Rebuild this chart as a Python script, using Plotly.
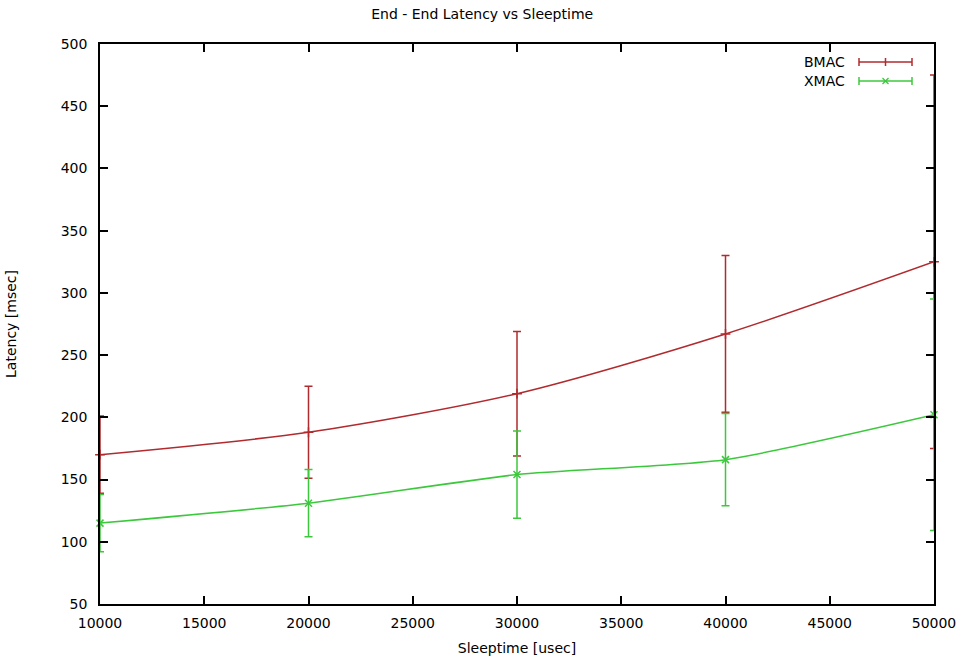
import plotly.graph_objects as go

sleeptime = [10000, 20000, 30000, 40000, 50000]
bmac_latency = [170, 188, 219, 267, 325]
bmac_err = [31, 37, 50, 63, 150]
xmac_latency = [115, 131, 154, 166, 202]
xmac_err = [23, 27, 35, 37, 93]

x_ticks = list(range(10000, 50001, 5000))
y_ticks = list(range(50, 501, 50))

RED = "#b02a2e"
GREEN = "#3cc83c"
FONT = "DejaVu Sans, Liberation Sans, sans-serif"
FS = 14

fig = go.Figure()
fig.add_trace(go.Scatter(
    x=sleeptime, y=bmac_latency, name="BMAC", mode="lines+markers",
    line=dict(color=RED, width=1.5, shape="spline", smoothing=0.8),
    marker=dict(symbol="cross-thin", size=7, line=dict(color=RED, width=1.5)),
    error_y=dict(type="data", array=bmac_err, visible=True, color=RED,
                 thickness=1.5, width=4),
    cliponaxis=False, showlegend=False,
))
fig.add_trace(go.Scatter(
    x=sleeptime, y=xmac_latency, name="XMAC", mode="lines+markers",
    line=dict(color=GREEN, width=1.5, shape="spline", smoothing=0.6),
    marker=dict(symbol="x-thin", size=7, line=dict(color=GREEN, width=1.5)),
    error_y=dict(type="data", array=xmac_err, visible=True, color=GREEN,
                 thickness=1.5, width=4),
    cliponaxis=False, showlegend=False,
))

# Gnuplot-style legend: text then line sample with error caps
legend_items = [("BMAC", RED, 62, "cross-thin"), ("XMAC", GREEN, 81, "x-thin")]
W, H = 969, 663
ml, mr, mt, mb = 100, 35, 44, 59
pw, ph = W - ml - mr, H - mt - mb

def px(xp):
    return (xp - ml) / pw

def py(yp):
    return 1 - (yp - mt) / ph

for name, col, yy, sym in legend_items:
    fig.add_annotation(x=px(847), y=py(yy), xref="paper", yref="paper",
                       text=name, showarrow=False, xanchor="right",
                       yanchor="middle", font=dict(family=FONT, size=FS, color="black"))
    fig.add_shape(type="line", xref="paper", yref="paper",
                  x0=px(859), x1=px(912), y0=py(yy), y1=py(yy),
                  line=dict(color=col, width=1.5))
    for xe in (859, 912):
        fig.add_shape(type="line", xref="paper", yref="paper",
                      x0=px(xe), x1=px(xe), y0=py(yy - 4), y1=py(yy + 4),
                      line=dict(color=col, width=1.5))
    if sym == "cross-thin":
        fig.add_shape(type="line", xref="paper", yref="paper",
                      x0=px(885.5), x1=px(885.5), y0=py(yy - 4), y1=py(yy + 4),
                      line=dict(color=col, width=1.5))
    else:
        fig.add_shape(type="line", xref="paper", yref="paper",
                      x0=px(882.5), x1=px(888.5), y0=py(yy - 3), y1=py(yy + 3),
                      line=dict(color=col, width=1.2))
        fig.add_shape(type="line", xref="paper", yref="paper",
                      x0=px(882.5), x1=px(888.5), y0=py(yy + 3), y1=py(yy - 3),
                      line=dict(color=col, width=1.2))

axis_common = dict(
    showline=True, linecolor="black", linewidth=1.5, mirror="allticks",
    ticks="inside", ticklen=8, tickwidth=1.5, tickcolor="black",
    showgrid=False, zeroline=False, automargin=False,
    tickfont=dict(family=FONT, size=FS, color="black"),
)

fig.update_layout(
    width=W, height=H,
    margin=dict(l=ml, r=mr, t=mt, b=mb),
    paper_bgcolor="white", plot_bgcolor="white",
    title=dict(text="End - End Latency vs Sleeptime", x=px(515), xanchor="center",
               y=1 - 14 / H, yanchor="middle",
               font=dict(family=FONT, size=FS, color="black")),
    xaxis=dict(range=[10000, 50000], tickvals=x_ticks,
               ticktext=[str(v) for v in x_ticks], ticklabelstandoff=5,
               title=dict(text="Sleeptime [usec]", standoff=14,
                          font=dict(family=FONT, size=FS, color="black")),
               **axis_common),
    yaxis=dict(range=[50, 500], tickvals=y_ticks,
               ticktext=[str(v) for v in y_ticks], ticklabelstandoff=8,
               title=dict(text="Latency [msec]", standoff=41,
                          font=dict(family=FONT, size=FS, color="black")),
               **axis_common),
)

fig.write_html("out.html")
